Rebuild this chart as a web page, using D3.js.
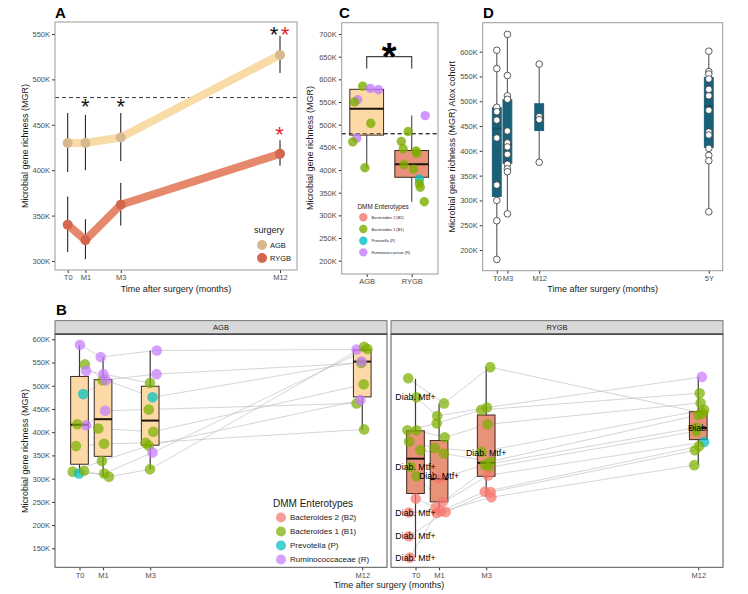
<!DOCTYPE html>
<html><head><meta charset="utf-8">
<script src="https://cdn.jsdelivr.net/npm/d3@7"></script>
<style>body{margin:0;background:#fff}svg{display:block;font-family:"Liberation Sans",Arial,sans-serif}</style>
</head><body><svg id="c" width="748" height="594"></svg>
<script>
// ---------------- DATA ----------------
// Panel A (mean +/- error by surgery)
const monthsA = [0, 1, 3, 12];
const timeLabels = ["T0", "M1", "M3", "M12"];
const agbMean = [430000, 430000, 436000, 527000];
const agbLow = [398000, 400000, 410000, 507000];
const agbHigh = [463000, 461000, 463000, 548000];
const rygbMean = [340000, 323000, 362000, 418000];
const rygbLow = [310000, 302000, 339000, 405000];
const rygbHigh = [371000, 346000, 386000, 433000];
const refLine = 480000;
const yTicksA = [300000, 350000, 400000, 450000, 500000, 550000];
const starMonthA = [1, 3, 11.66, 12.28, 11.98];
const starValueA = [475000, 475000, 555000, 555000, 445000];
const starColorA = ["#111", "#111", "#111", "#e3262e", "#e3262e"];
const surgeryNames = ["AGB", "RYGB"];

// Enterotypes
const entKeys = ["B2", "B1", "P", "R"];
const entNames = ["Bacteroides 2 (B2)", "Bacteroides 1 (B1)", "Prevotella (P)", "Ruminococcaceae (R)"];
const entColors = ["#F8766D", "#7CAE00", "#00BFC4", "#C77CFF"];

// Panel B — AGB, subject order across timepoints (T0, M1, M3, M12)
const agbValues = [
  [588, 546, 532, 482, 415, 417, 370, 315, 311, 317],
  [562, 512, 525, 512, 446, 408, 375, 338, 311, 304],
  [576, 525, 506, 475, 449, 401, 377, 371, 356, 320],
  [578, 549, null, 552, 462, 503, 406, 469, 579, 584]
];
const agbTypes = [
  ["R","B1","R","P","R","B1","B1","B1","P","B1"],
  ["R","B1","R","R","R","B1","B1","B1","B1","B1"],
  ["R","R","B1","P","B1","B1","B1","B1","R","B1"],
  ["R","B1",null,"R","B1","B1","B1","R","B1","B1"]
];
const agbJitter = [
  [0.02, 0.23, 0.28, 0.16, 0.28, -0.09, -0.15, -0.29, -0.02, 0.19],
  [-0.10, -0.02, 0.01, 0.12, 0.09, -0.20, 0.04, -0.05, 0.05, 0.25],
  [0.28, 0.27, -0.01, 0.10, -0.06, 0.13, -0.19, -0.06, 0.10, -0.01],
  [-0.24, -0.04, 0, -0.03, -0.24, 0.06, 0.08, -0.08, 0.22, 0.08]
];
// box stats: [lower whisker, q1, median, q3, upper whisker]
const agbBox = [
  [312, 331, 416, 520, 588],
  [304, 348, 428, 513, 562],
  [320, 372, 425, 499, 576],
  [406, 476, 552, 577, 584]
];
// Panel B — RYGB
const rygbValues = [
  [516, 475, 404, 404, 380, 361, 325, 305, 257, 227, 176, 130],
  [462, 435, 419, 389, 366, 354, 300, 250, 238, 230, 228, 226],
  [540, 453, 448, 417, 358, 337, 330, 324, 307, 272, 271, 260],
  [441, 519, 484, 463, 448, 437, 410, 402, 379, 370, 361, 329]
];
const rygbTypes = [
  ["B1","B1","B1","B1","B1","B1","B1","B1","B2","B2","B2","B2"],
  ["B1","B1","B1","B1","B1","B1","B2","B2","B2","B2","B2","B2"],
  ["B1","B1","B1","B1","B1","B1","B1","B1","B2","B2","B2","B2"],
  ["B1","R","B1","B1","B1","B1","B1","B1","P","B1","B1","B1"]
];
const rygbJitter = [
  [-0.31, 0.04, -0.34, 0.04, -0.27, 0.21, -0.21, 0.04, 0.01, -0.28, -0.28, -0.24],
  [0.21, -0.08, -0.10, 0.24, -0.18, 0.20, 0.03, 0.16, -0.15, 0.07, 0.28, -0.10],
  [0.17, 0.03, -0.21, 0.06, -0.20, 0.19, -0.06, 0.10, 0.08, -0.06, 0.19, 0.22],
  [0.18, 0.15, 0.06, 0.10, 0.25, 0.00, -0.08, -0.08, 0.25, 0.04, -0.14, -0.17]
];
const rygbBox = [
  [130, 268, 343, 403, 515],
  [226, 250, 299, 382, 462],
  [260, 305, 334, 437, 540],
  [330, 384, 409, 444, 519]
];
const diabMonth = [0, 0, 0, 0, 0, 1, 3, 12];
const diabValue = [475, 325, 227, 176, 130, 305, 356, 410];
const diabText = ["Diab. Mtf+", "Diab. Mtf+", "Diab. Mtf+", "Diab. Mtf+", "Diab. Mtf+", "Diab. Mtf+", "Diab. Mtf+", "Diab."];
const yTicksB = [150000, 200000, 250000, 300000, 350000, 400000, 450000, 500000, 550000, 600000];

// Panel C (M12 comparison)
const cAgbValues = [585, 580, 577, 555, 550, 503, 470, 462, 405];
const cAgbTypes = ["B1","R","R","R","B1","B1","R","B1","B1"];
const cAgbJitter = [-0.09, 0.08, 0.26, -0.20, -0.27, 0.09, -0.22, -0.31, -0.04];
const cRygbValues = [520, 485, 463, 447, 442, 437, 412, 402, 380, 370, 362, 330];
const cRygbTypes = ["R","B1","B1","B1","B1","B1","B1","B1","P","B1","B1","B1"];
const cRygbJitter = [0.30, -0.08, -0.23, -0.19, 0.10, 0.11, -0.17, 0.04, 0.17, 0.17, 0.19, 0.28];
const cBox = [[405, 477, 535, 578, 585], [330, 384, 413, 443, 520]];
const yTicksC = [200000, 250000, 300000, 350000, 400000, 450000, 500000, 550000, 600000, 650000, 700000];

// Panel D (Atox cohort)
const dMonths = [0, 3, 12, 60];
const dLabels = ["T0", "M3", "M12", "5Y"];
const dValues = [
  [603, 566, 488, 479, 462, 426, 331, 300, 259, 181],
  [635, 552, 511, 504, 440, 416, 408, 393, 373, 364, 358, 273],
  [575, 469, 463, 377],
  [601, 560, 555, 545, 524, 511, 482, 438, 432, 405, 391, 380, 277]
];
const dBox = [
  [181, 308, 445, 487, 603],
  [273, 375, 412, 503, 635],
  [377, 441, 466, 495, 575],
  [277, 407, 490, 548, 601]
];
const yTicksD = [200000, 250000, 300000, 350000, 400000, 450000, 500000, 550000, 600000];

// ---------------- DRAWING ----------------
const svg = d3.select("#c");
const K = 1000;
const kFmt = d => Math.round(d / 1000) + "K";
const entColor = k => entColors[entKeys.indexOf(k)];

function frame(x0, y0, x1, y1, stroke) {
  svg.append("rect").attr("x", x0).attr("y", y0).attr("width", x1 - x0).attr("height", y1 - y0)
    .attr("fill", "none").attr("stroke", stroke).attr("stroke-width", 1);
}
function yAxis(scale, ticks, x, fs) {
  const g = svg.append("g").attr("transform", `translate(${x},0)`)
    .call(d3.axisLeft(scale).tickValues(ticks).tickFormat(kFmt).tickSize(3).tickPadding(2));
  g.select(".domain").remove();
  g.selectAll("line").attr("stroke", "#333");
  g.selectAll("text").attr("font-size", fs).attr("fill", "#4d4d4d").attr("font-family", null);
}
function xAxis(scale, vals, labels, y, fs) {
  const g = svg.append("g").attr("transform", `translate(0,${y})`)
    .call(d3.axisBottom(scale).tickValues(vals).tickFormat((d, i) => labels[i]).tickSize(3).tickPadding(2));
  g.select(".domain").remove();
  g.selectAll("line").attr("stroke", "#333");
  g.selectAll("text").attr("font-size", fs).attr("fill", "#4d4d4d").attr("font-family", null);
}
function text(x, y, s, fs, opts = {}) {
  const t = svg.append("text").attr("x", x).attr("y", y).text(s).attr("font-size", fs)
    .attr("fill", opts.fill || "#1a1a1a").attr("text-anchor", opts.anchor || "start");
  if (opts.weight) t.attr("font-weight", opts.weight);
  if (opts.rotate) t.attr("transform", `rotate(-90,${x},${y})`);
  if (opts.db) t.attr("dominant-baseline", opts.db);
  return t;
}
function star(x, yCenter, fs, color, weight) {
  svg.append("text").attr("x", x).attr("y", yCenter + 0.56 * fs).attr("text-anchor", "middle")
    .attr("font-size", fs).attr("font-weight", weight || "normal").attr("fill", color).text("*");
}
function boxplot(cx, w, stats, yS, fill, stroke, medStroke, whiskColor) {
  const [lo, q1, med, q3, hi] = stats.map(v => v * K);
  svg.append("line").attr("x1", cx).attr("x2", cx).attr("y1", yS(hi)).attr("y2", yS(q3))
    .attr("stroke", whiskColor).attr("stroke-width", 1.2);
  svg.append("line").attr("x1", cx).attr("x2", cx).attr("y1", yS(q1)).attr("y2", yS(lo))
    .attr("stroke", whiskColor).attr("stroke-width", 1.2);
  svg.append("rect").attr("x", cx - w / 2).attr("y", yS(q3)).attr("width", w).attr("height", yS(q1) - yS(q3))
    .attr("fill", fill).attr("stroke", stroke).attr("stroke-width", 1);
  svg.append("line").attr("x1", cx - w / 2).attr("x2", cx + w / 2).attr("y1", yS(med)).attr("y2", yS(med))
    .attr("stroke", medStroke).attr("stroke-width", 2);
}

// ===== Panel A =====
const xA = d3.scaleLinear().domain([0, 12]).range([67.7, 280]);
const yA = d3.scaleLinear().domain([300000, 550000]).range([261, 34]);
svg.append("line").attr("x1", 55).attr("x2", 297).attr("y1", yA(refLine)).attr("y2", yA(refLine))
  .attr("stroke", "#222").attr("stroke-width", 0.9).attr("stroke-dasharray", "4,3");
const groupsA = [
  {mean: agbMean, low: agbLow, high: agbHigh, line: "#f9dba8", pt: "#d8b98f"},
  {mean: rygbMean, low: rygbLow, high: rygbHigh, line: "#e5886c", pt: "#d4664f"}
];
groupsA.forEach(g => {
  monthsA.forEach((m, i) => {
    svg.append("line").attr("x1", xA(m)).attr("x2", xA(m)).attr("y1", yA(g.low[i])).attr("y2", yA(g.high[i]))
      .attr("stroke", "#111").attr("stroke-width", 1);
  });
});
groupsA.forEach(g => {
  svg.append("path").datum(monthsA.map((m, i) => [m, g.mean[i]]))
    .attr("d", d3.line().x(d => xA(d[0])).y(d => yA(d[1])))
    .attr("fill", "none").attr("stroke", g.line).attr("stroke-width", 8)
    .attr("stroke-linecap", "round").attr("stroke-linejoin", "round");
});
groupsA.forEach(g => {
  monthsA.forEach((m, i) => {
    svg.append("circle").attr("cx", xA(m)).attr("cy", yA(g.mean[i])).attr("r", 5).attr("fill", g.pt);
  });
});
starMonthA.forEach((m, i) => star(xA(m), yA(starValueA[i]), 22, starColorA[i]));
yAxis(yA, yTicksA, 55, 7.5);
xAxis(xA, monthsA, timeLabels, 270, 7.5);
frame(55, 22, 297, 270, "#9a9a9a");
text(176, 291.5, "Time after surgery (months)", 9, {anchor: "middle"});
text(25, 146, "Microbial gene richness (MGR)", 9, {anchor: "middle", rotate: true, db: "central"});
text(55, 18, "A", 15, {weight: "bold", fill: "#000"});
// legend A
text(254, 233, "surgery", 9);
surgeryNames.forEach((n, i) => {
  svg.append("circle").attr("cx", 262).attr("cy", 245 + i * 13).attr("r", 5).attr("fill", groupsA[i].pt);
  text(270, 245 + i * 13, n, 7.5, {db: "central"});
});

// ===== Panel B =====
const yB = d3.scaleLinear().domain([150000, 600000]).range([548.3, 339.3]);
const bFacets = [
  {name: "AGB", x0: 55, x1: 387, vals: agbValues, types: agbTypes, jit: agbJitter, box: agbBox, fill: "#fcd9a6"},
  {name: "RYGB", x0: 391, x1: 723, vals: rygbValues, types: rygbTypes, jit: rygbJitter, box: rygbBox, fill: "#e9927a"}
];
const pTop = 334.3, pBot = 567.3, sTop = 320.7;
bFacets.forEach((f, fi) => {
  const xB = d3.scaleLinear().domain([-1.04, 13.05]).range([f.x0, f.x1]);
  const bw = xB(0.75) - xB(0);
  // subject lines
  const nSub = f.vals[0].length;
  for (let s = 0; s < nSub; s++) {
    const pts = [];
    monthsA.forEach((m, t) => {
      if (f.vals[t][s] != null) pts.push([xB(m + f.jit[t][s]), yB(f.vals[t][s] * K)]);
    });
    svg.append("path").attr("d", d3.line()(pts)).attr("fill", "none")
      .attr("stroke", "#b8b8b8").attr("stroke-width", 0.6);
  }
  // boxes
  monthsA.forEach((m, t) => boxplot(xB(m), bw, f.box[t], yB, f.fill, "#3a2a22", "#1e120c", "#3a3a3a"));
  // points
  monthsA.forEach((m, t) => {
    f.vals[t].forEach((v, s) => {
      if (v == null) return;
      svg.append("circle").attr("cx", xB(m + f.jit[t][s])).attr("cy", yB(v * K)).attr("r", 5.3)
        .attr("fill", entColor(f.types[t][s])).attr("fill-opacity", 0.72);
    });
  });
  if (f.name === "RYGB") {
    diabMonth.forEach((m, i) => {
      text(xB(m), yB(diabValue[i] * K), diabText[i], 8.8, {anchor: "middle", db: "central", fill: "#000"});
    });
  }
  // strip
  svg.append("rect").attr("x", f.x0).attr("y", sTop).attr("width", f.x1 - f.x0).attr("height", pTop - sTop)
    .attr("fill", "#d9d9d9").attr("stroke", "#555").attr("stroke-width", 0.8);
  svg.append("line").attr("x1", f.x0).attr("x2", f.x1).attr("y1", pTop).attr("y2", pTop)
    .attr("stroke", "#222").attr("stroke-width", 1.4);
  text((f.x0 + f.x1) / 2, (sTop + pTop) / 2, f.name, 7.5, {anchor: "middle", db: "central"});
  xAxis(xB, monthsA, timeLabels, pBot, 7.5);
  if (fi === 0) yAxis(yB, yTicksB, f.x0, 7.5);
  frame(f.x0, pTop, f.x1, pBot, "#555");
});
text(389, 588, "Time after surgery (months)", 9, {anchor: "middle"});
text(25, 451, "Microbial gene richness (MGR)", 9, {anchor: "middle", rotate: true, db: "central"});
text(56, 315, "B", 15, {weight: "bold", fill: "#000"});
// legend B
text(273, 507, "DMM Enterotypes", 10);
entNames.forEach((n, i) => {
  const y = 517.5 + i * 14;
  svg.append("circle").attr("cx", 281).attr("cy", y).attr("r", 5).attr("fill", entColors[i]).attr("fill-opacity", 0.72);
  text(290, y, n, 8, {db: "central"});
});

// ===== Panel C =====
const xC = d3.scaleLinear().domain([1, 2]).range([366.7, 411.7]);
const yC = d3.scaleLinear().domain([200000, 700000]).range([260.7, 34]);
const cW = xC(1.75) - xC(1);
svg.append("line").attr("x1", 341.7).attr("x2", 438).attr("y1", yC(refLine)).attr("y2", yC(refLine))
  .attr("stroke", "#222").attr("stroke-width", 0.9).attr("stroke-dasharray", "4,3");
const cGroups = [
  {vals: cAgbValues, types: cAgbTypes, jit: cAgbJitter, fill: "#fcd9a6"},
  {vals: cRygbValues, types: cRygbTypes, jit: cRygbJitter, fill: "#e9927a"}
];
cGroups.forEach((g, gi) => boxplot(xC(gi + 1), cW, cBox[gi], yC, g.fill, "#3a2a22", "#1e120c", "#555"));
svg.append("line").attr("x1", 341.7).attr("x2", 438).attr("y1", yC(refLine)).attr("y2", yC(refLine))
  .attr("stroke", "#222").attr("stroke-width", 0.9).attr("stroke-dasharray", "4,3");
cGroups.forEach((g, gi) => {
  g.vals.forEach((v, i) => {
    svg.append("circle").attr("cx", xC(gi + 1 + g.jit[i])).attr("cy", yC(v * K)).attr("r", 4.7)
      .attr("fill", entColor(g.types[i])).attr("fill-opacity", 0.8);
  });
});
// significance bracket
svg.append("path").attr("d", d3.line()([[xC(1), yC(624000)], [xC(1), yC(650000)], [xC(2), yC(650000)], [xC(2), yC(624000)]]))
  .attr("fill", "none").attr("stroke", "#444").attr("stroke-width", 1.2);
star(xC(1.5), yC(668000), 38, "#000", "bold");
yAxis(yC, yTicksC, 341.7, 7.5);
xAxis(xC, [1, 2], surgeryNames, 274, 7.5);
frame(341.7, 22.7, 438, 274, "#9a9a9a");
text(310, 148, "Microbial gene richness (MGR)", 9, {anchor: "middle", rotate: true, db: "central"});
text(339, 18, "C", 15, {weight: "bold", fill: "#000"});
// legend C
text(357.5, 209, "DMM Enterotypes", 6.4);
entNames.forEach((n, i) => {
  const y = 217.3 + i * 11.7;
  svg.append("circle").attr("cx", 363.3).attr("cy", y).attr("r", 4.2).attr("fill", entColors[i]).attr("fill-opacity", 0.8);
  text(371.5, y, n, 3.9, {db: "central"});
});

// ===== Panel D =====
const xD = d3.scaleLinear().domain([0, 60]).range([496.8, 708.8]);
const yD = d3.scaleLinear().domain([200000, 600000]).range([250, 51.7]);
const dW = xD(2.5) - xD(0);
dMonths.forEach((m, i) => boxplot(xD(m), dW, dBox[i], yD, "#1b6079", "#1b6079", "#164e64", "#666"));
dMonths.forEach((m, i) => {
  dValues[i].forEach(v => {
    svg.append("circle").attr("cx", xD(m)).attr("cy", yD(v * K)).attr("r", 3.3)
      .attr("fill", "#fff").attr("stroke", "#333").attr("stroke-width", 0.8);
  });
});
yAxis(yD, yTicksD, 482.7, 7.5);
xAxis(xD, dMonths, dLabels, 270.7, 7.5);
frame(482.7, 22.7, 722.7, 270.7, "#9a9a9a");
text(602.7, 291.5, "Time after surgery (months)", 9, {anchor: "middle"});
text(452, 146.7, "Microbial gene richness (MGR) Atox cohort", 9, {anchor: "middle", rotate: true, db: "central"});
text(483, 18, "D", 15, {weight: "bold", fill: "#000"});
</script>
</body></html>
